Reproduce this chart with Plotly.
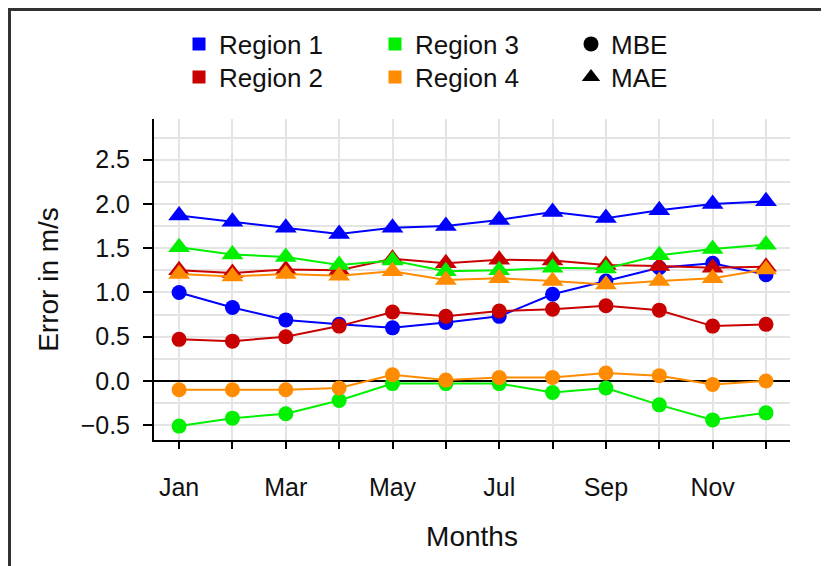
import plotly.graph_objects as go

# ── Data ──────────────────────────────────────────────────────────────────────

MONTHS = ["Jan", "Feb", "Mar", "Apr", "May", "Jun", "Jul", "Aug", "Sep", "Oct", "Nov", "Dec"]
TICK_TEXT = ["Jan", "", "Mar", "", "May", "", "Jul", "", "Sep", "", "Nov", ""]
REGIONS = ["Region 1", "Region 2", "Region 3", "Region 4"]

MBE_REGION_1 = [1.00, 0.83, 0.69, 0.64, 0.60, 0.66, 0.73, 0.98, 1.13, 1.28, 1.33, 1.20]
MBE_REGION_2 = [0.47, 0.45, 0.50, 0.62, 0.78, 0.73, 0.79, 0.81, 0.85, 0.80, 0.62, 0.64]
MBE_REGION_3 = [-0.51, -0.42, -0.37, -0.22, -0.03, -0.03, -0.03, -0.13, -0.08, -0.27, -0.44, -0.36]
MBE_REGION_4 = [-0.10, -0.10, -0.10, -0.08, 0.07, 0.01, 0.04, 0.04, 0.09, 0.06, -0.04, 0.00]

MAE_REGION_1 = [1.87, 1.80, 1.73, 1.66, 1.73, 1.75, 1.82, 1.91, 1.84, 1.93, 2.00, 2.03]
MAE_REGION_2 = [1.25, 1.22, 1.26, 1.25, 1.38, 1.33, 1.37, 1.36, 1.31, 1.30, 1.28, 1.29]
MAE_REGION_3 = [1.51, 1.43, 1.40, 1.31, 1.36, 1.24, 1.25, 1.28, 1.27, 1.42, 1.49, 1.54]
MAE_REGION_4 = [1.21, 1.18, 1.21, 1.19, 1.24, 1.14, 1.16, 1.13, 1.09, 1.13, 1.16, 1.26]

Y_TICKS = [-0.5, 0.0, 0.5, 1.0, 1.5, 2.0, 2.5]

# ── Style ─────────────────────────────────────────────────────────────────────

COLORS = {"Region 1": "#0000ff", "Region 2": "#c80000", "Region 3": "#00f000", "Region 4": "#ff8c00"}
FONT = "Liberation Sans, Arial, sans-serif"

MBE = {"Region 1": MBE_REGION_1, "Region 2": MBE_REGION_2, "Region 3": MBE_REGION_3, "Region 4": MBE_REGION_4}
MAE = {"Region 1": MAE_REGION_1, "Region 2": MAE_REGION_2, "Region 3": MAE_REGION_3, "Region 4": MAE_REGION_4}

x_idx = list(range(len(MONTHS)))

fig = go.Figure()

for metric, values, symbol, size in [("MBE", MBE, "circle", 15), ("MAE", MAE, "triangle-up", 19)]:
    for region in REGIONS:
        fig.add_trace(go.Scatter(
            x=x_idx, y=values[region], mode="lines+markers", name=f"{region} {metric}",
            line={"color": COLORS[region], "width": 2},
            marker={"color": COLORS[region], "symbol": symbol, "size": size},
            showlegend=False, hoverinfo="x+y",
        ))

# legend-only entries: row one and row two are two horizontal legends
legend_rows = [
    ("legend", [("Region 1", "square", COLORS["Region 1"], 13), ("Region 3", "square", COLORS["Region 3"], 13), ("MBE", "circle", "black", 15)]),
    ("legend2", [("Region 2", "square", COLORS["Region 2"], 13), ("Region 4", "square", COLORS["Region 4"], 13), ("MAE", "triangle-up", "black", 17)]),
]
for legend_id, entries in legend_rows:
    for name, symbol, color, size in entries:
        fig.add_trace(go.Scatter(
            x=[None], y=[None], mode="markers", name=name, legend=legend_id,
            marker={"color": color, "symbol": symbol, "size": size},
        ))

# the page puts the figure 8px in from the top-left corner, so pixel targets are shifted by 8
OFFSET = 8
W, H = 829 - OFFSET, 566 - OFFSET
PX_L, PX_R, PX_T, PX_B = 154 - OFFSET, 790 - OFFSET, 119 - OFFSET, 440 - OFFSET


def px_to_paper_x(px):
    return (px - OFFSET - PX_L) / (PX_R - PX_L)


def px_to_paper_y(py):
    return (PX_B - (py - OFFSET)) / (PX_B - PX_T)


legend_style = dict(
    orientation="h", xanchor="left", yanchor="middle", entrywidth=151, entrywidthmode="pixels",
    font={"family": FONT, "size": 26, "color": "#111"}, bgcolor="rgba(0,0,0,0)", itemsizing="trace",
)
fig.update_layout(
    legend=dict(x=px_to_paper_x(179), y=px_to_paper_y(44), **legend_style),
    legend2=dict(x=px_to_paper_x(179), y=px_to_paper_y(77), **legend_style),
)

fig.update_xaxes(
    range=[-0.47, 11.45], tickmode="array", tickvals=x_idx, ticktext=TICK_TEXT,
    showline=True, linecolor="black", linewidth=2, mirror=False,
    ticks="outside", ticklen=7, tickwidth=1.5, tickcolor="black", ticklabelstandoff=17,
    showgrid=True, gridcolor="#e4e4e4", gridwidth=1.5, zeroline=False,
    tickfont={"family": FONT, "size": 25, "color": "#111"},
    title={"text": "Months", "font": {"family": FONT, "size": 28, "color": "#111"}, "standoff": 26},
)
fig.update_yaxes(
    range=[-0.667, 2.96], tickmode="array", tickvals=Y_TICKS, tickformat=".1f",
    showline=True, linecolor="black", linewidth=2, mirror=False,
    ticks="outside", ticklen=9, tickwidth=1.5, tickcolor="black", ticklabelstandoff=8,
    showgrid=True, gridcolor="#e4e4e4", gridwidth=1.5,
    minor={"dtick": 0.25, "tick0": 0, "showgrid": True, "gridcolor": "#e4e4e4", "gridwidth": 1.5, "ticklen": 0},
    zeroline=True, zerolinecolor="black", zerolinewidth=1.5,
    tickfont={"family": FONT, "size": 25, "color": "#111"},
    title={"text": "Error in m/s", "font": {"family": FONT, "size": 28, "color": "#111"}, "standoff": 14},
)

# frame around the whole picture (right and bottom edges fall outside the canvas)
fig.add_shape(
    type="rect", xref="paper", yref="paper",
    x0=px_to_paper_x(OFFSET + 1.5), x1=px_to_paper_x(850), y0=px_to_paper_y(590), y1=px_to_paper_y(OFFSET + 1.5),
    line={"color": "#333", "width": 3}, fillcolor="rgba(0,0,0,0)", layer="above",
)

fig.update_layout(
    width=W, height=H,
    margin={"l": PX_L, "r": W - PX_R, "t": PX_T, "b": H - PX_B, "autoexpand": False},
    paper_bgcolor="white", plot_bgcolor="white",
    font={"family": FONT, "color": "#111"},
)

fig.write_html("out.html")
